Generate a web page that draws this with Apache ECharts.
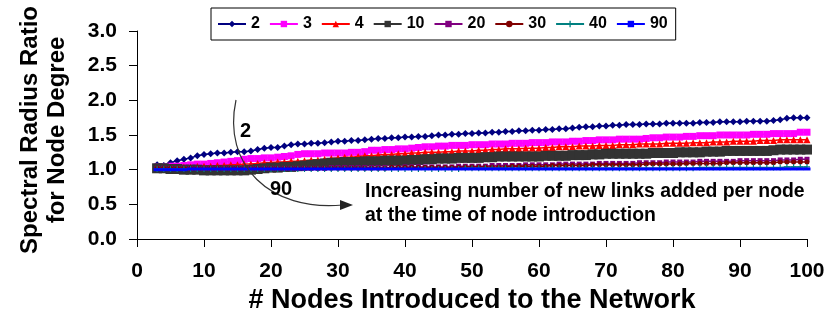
<!DOCTYPE html>
<html>
<head>
<meta charset="utf-8">
<script src="https://cdn.jsdelivr.net/npm/echarts@6/dist/echarts.min.js"></script>
<style>html,body{margin:0;padding:0;background:#fff}#c{width:831px;height:320px}</style>
</head>
<body>
<div id="c"></div>
<script>
const nodes = [3,4,5,6,7,8,9,10,11,12,13,14,15,16,17,18,19,20,21,22,23,24,25,26,27,28,29,30,31,32,33,34,35,36,37,38,39,40,41,42,43,44,45,46,47,48,49,50,51,52,53,54,55,56,57,58,59,60,61,62,63,64,65,66,67,68,69,70,71,72,73,74,75,76,77,78,79,80,81,82,83,84,85,86,87,88,89,90,91,92,93,94,95,96,97,98,99,100];
const seriesNames = ['2','3','4','10','20','30','40','90'];
const xTicks = [0,10,20,30,40,50,60,70,80,90,100];
const yTicks = [0.0,0.5,1.0,1.5,2.0,2.5,3.0];

const links2 = [1.07,1.06,1.10,1.13,1.15,1.17,1.20,1.22,1.23,1.24,
1.24,1.25,1.26,1.26,1.27,1.29,1.31,1.32,1.32,1.34,
1.36,1.37,1.37,1.38,1.38,1.39,1.40,1.41,1.41,1.42,
1.42,1.43,1.44,1.45,1.45,1.46,1.46,1.47,1.47,1.48,
1.48,1.49,1.50,1.50,1.51,1.51,1.52,1.52,1.53,1.53,
1.54,1.54,1.55,1.55,1.56,1.56,1.57,1.57,1.58,1.58,
1.59,1.59,1.60,1.61,1.62,1.62,1.63,1.63,1.64,1.64,
1.65,1.65,1.65,1.66,1.66,1.66,1.67,1.67,1.67,1.67,
1.67,1.68,1.68,1.68,1.69,1.69,1.69,1.69,1.70,1.70,
1.70,1.70,1.71,1.72,1.74,1.75,1.75,1.75];
const links3 = [1.04,1.04,1.05,1.05,1.06,1.07,1.08,1.08,1.09,1.10,
1.11,1.12,1.13,1.15,1.16,1.16,1.17,1.17,1.18,1.19,
1.20,1.22,1.23,1.23,1.23,1.24,1.24,1.24,1.24,1.25,
1.25,1.26,1.28,1.28,1.29,1.29,1.30,1.30,1.31,1.32,
1.33,1.33,1.34,1.34,1.35,1.35,1.35,1.36,1.36,1.36,
1.37,1.37,1.37,1.38,1.38,1.38,1.39,1.39,1.39,1.40,
1.40,1.40,1.41,1.41,1.42,1.42,1.43,1.43,1.43,1.44,
1.44,1.44,1.44,1.45,1.46,1.46,1.47,1.47,1.47,1.48,
1.48,1.49,1.49,1.49,1.50,1.50,1.50,1.50,1.50,1.51,
1.51,1.51,1.52,1.52,1.52,1.52,1.54,1.54];
const links4 = [1.03,1.03,1.03,1.04,1.04,1.04,1.05,1.05,1.05,1.06,
1.06,1.07,1.07,1.08,1.08,1.09,1.10,1.10,1.11,1.11,
1.12,1.12,1.13,1.14,1.14,1.15,1.16,1.17,1.18,1.18,
1.19,1.20,1.20,1.21,1.22,1.22,1.23,1.23,1.24,1.24,
1.25,1.25,1.25,1.26,1.26,1.27,1.27,1.27,1.28,1.28,
1.29,1.29,1.30,1.30,1.30,1.31,1.31,1.31,1.32,1.32,
1.33,1.33,1.33,1.34,1.34,1.34,1.35,1.35,1.35,1.36,
1.36,1.36,1.37,1.37,1.37,1.37,1.38,1.38,1.38,1.38,
1.39,1.39,1.39,1.40,1.40,1.40,1.41,1.41,1.41,1.41,
1.42,1.42,1.42,1.43,1.43,1.43,1.43,1.43];
const links10 = [1.02,1.02,1.01,1.01,1.00,1.00,1.00,0.99,0.99,0.99,
0.99,0.99,0.99,0.99,1.00,1.01,1.02,1.03,1.03,1.04,
1.04,1.05,1.06,1.07,1.08,1.09,1.10,1.10,1.11,1.11,
1.11,1.12,1.12,1.12,1.13,1.13,1.13,1.13,1.14,1.14,
1.15,1.15,1.16,1.16,1.16,1.17,1.17,1.17,1.17,1.18,
1.18,1.19,1.19,1.19,1.19,1.19,1.19,1.19,1.20,1.20,
1.20,1.20,1.21,1.21,1.21,1.22,1.22,1.23,1.23,1.23,
1.23,1.23,1.23,1.23,1.24,1.24,1.24,1.24,1.25,1.25,
1.25,1.25,1.26,1.26,1.26,1.27,1.27,1.27,1.27,1.27,
1.27,1.27,1.28,1.29,1.29,1.29,1.29,1.29];
const links20 = [1.02,1.02,1.02,1.02,1.02,1.02,1.02,1.02,1.02,1.02,
1.02,1.02,1.02,1.02,1.02,1.02,1.02,1.02,1.02,1.02,
1.02,1.02,1.02,1.02,1.02,1.02,1.03,1.03,1.03,1.03,
1.03,1.03,1.03,1.03,1.03,1.03,1.03,1.04,1.04,1.04,
1.04,1.04,1.04,1.04,1.04,1.05,1.05,1.05,1.05,1.05,
1.06,1.06,1.06,1.06,1.06,1.07,1.07,1.07,1.07,1.07,
1.08,1.08,1.08,1.08,1.08,1.08,1.09,1.09,1.09,1.09,
1.09,1.09,1.10,1.10,1.10,1.10,1.11,1.11,1.11,1.11,
1.11,1.12,1.12,1.12,1.12,1.12,1.12,1.13,1.13,1.13,
1.13,1.13,1.13,1.14,1.14,1.14,1.15,1.15];
const links30 = [1.02,1.02,1.02,1.02,1.02,1.02,1.02,1.02,1.02,1.02,
1.02,1.02,1.02,1.02,1.02,1.02,1.02,1.02,1.02,1.02,
1.02,1.02,1.02,1.02,1.02,1.02,1.02,1.02,1.02,1.02,
1.02,1.02,1.02,1.02,1.02,1.03,1.03,1.03,1.03,1.03,
1.03,1.03,1.03,1.03,1.03,1.03,1.04,1.04,1.04,1.04,
1.04,1.04,1.04,1.05,1.05,1.05,1.05,1.05,1.05,1.06,
1.06,1.06,1.06,1.06,1.06,1.07,1.07,1.07,1.07,1.07,
1.07,1.07,1.07,1.08,1.08,1.08,1.08,1.08,1.08,1.09,
1.09,1.09,1.09,1.09,1.09,1.10,1.10,1.10,1.10,1.10,
1.10,1.10,1.10,1.11,1.11,1.11,1.11,1.11];
const links40 = [1.01,1.01,1.01,1.01,1.01,1.01,1.01,1.01,1.01,1.01,
1.01,1.01,1.01,1.01,1.01,1.01,1.01,1.01,1.01,1.01,
1.01,1.01,1.01,1.01,1.01,1.01,1.01,1.01,1.01,1.01,
1.01,1.01,1.01,1.01,1.01,1.01,1.01,1.01,1.01,1.01,
1.01,1.01,1.01,1.01,1.01,1.01,1.02,1.02,1.02,1.02,
1.02,1.02,1.02,1.02,1.02,1.02,1.02,1.02,1.02,1.02,
1.02,1.02,1.02,1.02,1.02,1.02,1.02,1.02,1.02,1.02,
1.02,1.02,1.02,1.02,1.02,1.02,1.02,1.02,1.02,1.02,
1.02,1.03,1.03,1.03,1.03,1.03,1.03,1.03,1.03,1.03,
1.03,1.03,1.03,1.03,1.04,1.04,1.04,1.04];
const links90 = [1.00,1.00,1.00,1.00,1.00,1.01,1.01,1.01,1.01,1.01,
1.01,1.01,1.01,1.01,1.01,1.01,1.01,1.01,1.01,1.01,
1.01,1.01,1.01,1.01,1.01,1.01,1.01,1.01,1.01,1.01,
1.01,1.01,1.01,1.01,1.01,1.01,1.01,1.01,1.01,1.01,
1.01,1.01,1.01,1.01,1.01,1.01,1.01,1.01,1.01,1.01,
1.01,1.01,1.01,1.01,1.01,1.01,1.01,1.01,1.01,1.01,
1.01,1.01,1.01,1.01,1.01,1.01,1.01,1.01,1.01,1.01,
1.01,1.01,1.01,1.01,1.01,1.01,1.01,1.01,1.01,1.01,
1.01,1.01,1.01,1.01,1.01,1.01,1.01,1.01,1.01,1.01,
1.01,1.01,1.01,1.01,1.01,1.01,1.01,1.01];

const allValues = [links2,links3,links4,links10,links20,links30,links40,links90];
const colors = ['#000080','#FF00FF','#FF0000','#333333','#800080','#800000','#008080','#0000FF'];
const symbols = ['diamond','rect','triangle','rect','rect','circle','path://M4,0H6V4H10V6H6V10H4V6H0V4H4Z','rect'];
const sizes = [7,7,7,10,5,5,6,[7,3]];

const F = 'Arial, "Liberation Sans", sans-serif';
const chart = echarts.init(document.getElementById('c'), null, {renderer:'canvas'});
const series = seriesNames.map((n,i)=>({
  name: n, type:'line',
  data: nodes.map((x,j)=>[x, allValues[i][j]]),
  symbol: symbols[i], symbolSize: sizes[i], showSymbol:true,
  lineStyle:{color:colors[i], width: i===3?2:1.5},
  itemStyle:{color:colors[i]},
  emphasis:{disabled:true}, animation:false, z: 2+i
}));

chart.setOption({
  animation:false,
  backgroundColor:'#fff',
  grid:{left:137, right:24, top:31, bottom:81},
  legend:{
    data: seriesNames, left:211, top:8,
    orient:'horizontal', itemWidth:28, itemHeight:8, itemGap:9,
    padding:[8,8,8,6], borderColor:'#000', borderWidth:1,
    textStyle:{fontFamily:F, fontWeight:'bold', fontSize:16, color:'#000'}
  },
  xAxis:{
    type:'value', min:0, max:100, interval:10,
    axisLine:{show:true, lineStyle:{color:'#000', width:1}},
    axisTick:{show:true, length:8, lineStyle:{color:'#000'}},
    splitLine:{show:false},
    axisLabel:{fontFamily:F, fontWeight:'bold', fontSize:21, color:'#000', margin:22,
      formatter:v=> xTicks.includes(v)? String(v):''},
    name:'# Nodes Introduced to the Network', nameLocation:'middle', nameGap:47,
    nameTextStyle:{fontFamily:F, fontWeight:'bold', fontSize:27, color:'#000'}
  },
  yAxis:{
    type:'value', min:0, max:3, interval:0.5,
    axisLine:{show:true, lineStyle:{color:'#000', width:1}},
    axisTick:{show:true, length:8, lineStyle:{color:'#000'}},
    splitLine:{show:false},
    axisLabel:{fontFamily:F, fontWeight:'bold', fontSize:21, color:'#000', margin:20,
      formatter:v=> yTicks.includes(v)? v.toFixed(1):''},
    name:'Spectral Radius Ratio\nfor Node Degree', nameLocation:'middle', nameGap:66, nameRotate:90,
    nameTextStyle:{fontFamily:F, fontWeight:'bold', fontSize:24, color:'#000', lineHeight:27, padding:[0,0,0,10]}
  },
  graphic:[
    {type:'bezierCurve', z:100, shape:{x1:236,y1:100,cpx1:222,cpy1:165,cpx2:270,cpy2:212,x2:343,y2:205},
      style:{stroke:'#333', lineWidth:1.2, fill:null}},
    {type:'polygon', z:100, shape:{points:[[340,200],[353,205],[340,210]]}, style:{fill:'#222'}},
    {type:'text', z:100, left:240, top:121, style:{text:'2', font:'bold 20px '+F, fill:'#000'}},
    {type:'text', z:100, left:270, top:179, style:{text:'90', font:'bold 20px '+F, fill:'#000'}},
    {type:'text', z:100, left:365, top:180, style:{text:'Increasing number of new links added per node\nat the time of node introduction', font:'bold 19.4px '+F, fill:'#000', lineHeight:24}}
  ],
  series: series
});
</script>
</body>
</html>
